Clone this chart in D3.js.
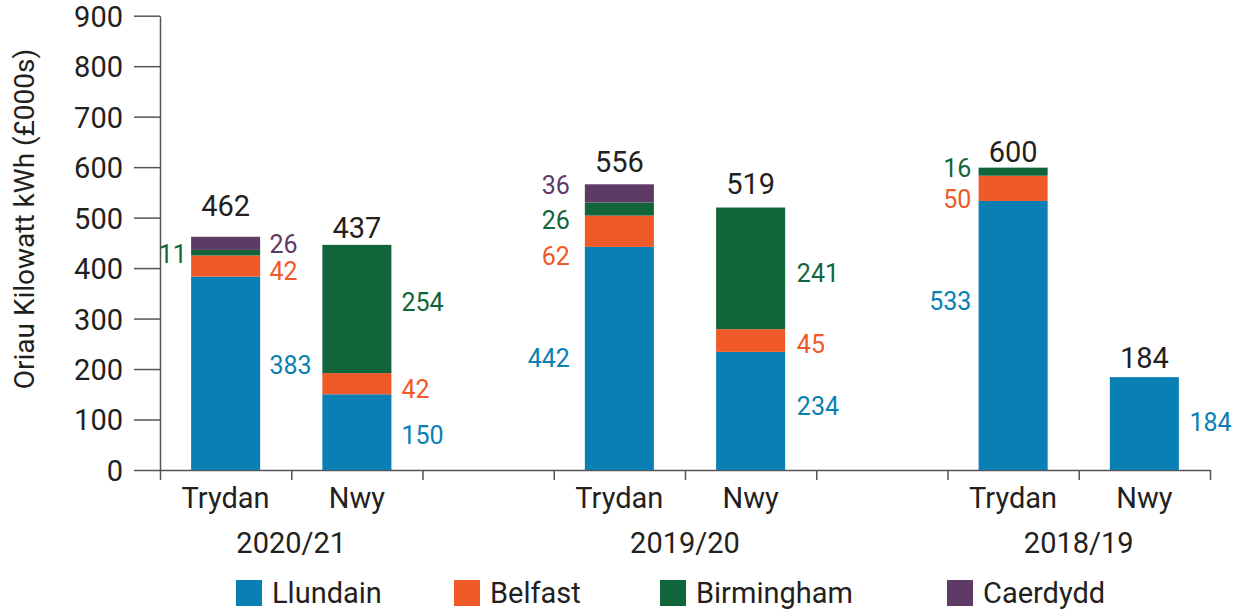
<!DOCTYPE html>
<html>
<head>
<meta charset="utf-8">
<script src="https://cdn.jsdelivr.net/npm/d3@7"></script>
<style>
  html, body { margin: 0; padding: 0; background: #fff; }
  svg { display: block; font-family: Roboto, "Noto Sans", sans-serif; font-weight: 400; }
</style>
</head>
<body>
<svg id="chart" width="1235" height="610"></svg>
<script>
// ---- data ----
const years = ["2020/21", "2019/20", "2018/19"];
const fuels = ["Trydan", "Nwy"];
const seriesNames = ["Llundain", "Belfast", "Birmingham", "Caerdydd"];
// one entry per bar: 2020/21 Trydan, 2020/21 Nwy, 2019/20 Trydan, 2019/20 Nwy, 2018/19 Trydan, 2018/19 Nwy
const llundain   = [383, 150, 442, 234, 533, 184];
const belfast    = [42, 42, 62, 45, 50, 0];
const birmingham = [11, 254, 26, 241, 16, 0];
const caerdydd   = [26, 0, 36, 0, 0, 0];
const totals     = [462, 437, 556, 519, 600, 184];
const yTicks = [0, 100, 200, 300, 400, 500, 600, 700, 800, 900];
const yTitle = "Oriau Kilowatt kWh (£000s)";

// ---- styling / layout ----
const colors = ["#0a7fb4", "#f05a28", "#10663a", "#5e3a66"];
const textColor = "#231f20";
const axisColor = "#555";
// value label placement per bar: side of the bar and vertical nudge (px) for each series
const labelSide = [
  ["R", "R", "L", "R"], ["R", "R", "R", "R"], ["L", "L", "L", "L"],
  ["R", "R", "R", "R"], ["L", "L", "L", "L"], ["R", "R", "R", "R"]
];
const labelNudge = [
  [-8, 5, 1.5, 0.5], [3.4, 5.8, -7.3, 0], [-0.2, 24.5, 11.4, -8.1],
  [-5.1, 3.2, 4.4, 0], [-34.7, 11.2, -3.3, 0], [-1.6, 0, 0, 0]
];
const leftGap = [4.3, 8, 15, 8, 7.3, 8];
const rightGap = [9.3, 10, 10, 11.7, 10, 10.6];
const totalLift = [31.3, 17.4, 22.6, 23.8, 16.4, 19.9];
const legendX = [236, 454, 660, 947];

const svg = d3.select("#chart");

// band slots: each year gets Trydan, Nwy, then an empty spacer (none after the last)
const slots = [];
years.forEach((yr, i) => {
  fuels.forEach(f => slots.push(yr + "|" + f));
  if (i < years.length - 1) slots.push(yr + "|gap");
});
const barKeys = [];
years.forEach(yr => fuels.forEach(f => barKeys.push(yr + "|" + f)));

const x = d3.scaleBand().domain(slots).range([160, 1210]).padding(0);
const barW = x.bandwidth() * 0.526;
const y = d3.scaleLinear().domain([0, 900]).range([470, 15.7]);

// stacked layout
const rows = barKeys.map((k, i) => ({
  key: k, Llundain: llundain[i], Belfast: belfast[i], Birmingham: birmingham[i], Caerdydd: caerdydd[i]
}));
const stacked = d3.stack().keys(seriesNames)(rows);

// y axis
const yAxis = svg.append("g")
  .attr("transform", "translate(160,0)")
  .call(d3.axisLeft(y).tickValues(yTicks).tickSize(26).tickSizeOuter(0).tickPadding(11));
yAxis.select(".domain").attr("stroke", axisColor).attr("stroke-width", 1.5);
yAxis.selectAll(".tick line").attr("stroke", axisColor).attr("stroke-width", 1.5);
yAxis.selectAll(".tick text").attr("fill", textColor).style("font-size", "29px")
  .style("font-family", "Roboto, sans-serif").style("font-weight", 400).attr("dy", "0.36em");

// x axis: ticks on every band edge
const edge = d3.scaleLinear().domain([0, slots.length]).range([160, 1210]);
const xAxis = svg.append("g")
  .attr("transform", "translate(0,470)")
  .call(d3.axisBottom(edge).tickValues(d3.range(slots.length + 1)).tickFormat("").tickSizeInner(10).tickSizeOuter(0));
xAxis.select(".domain").attr("stroke", axisColor).attr("stroke-width", 1.5);
xAxis.selectAll(".tick line").attr("stroke", axisColor).attr("stroke-width", 1.5);

// bars
svg.append("g").selectAll("g")
  .data(stacked)
  .join("g")
  .attr("fill", (d, i) => colors[i])
  .selectAll("rect")
  .data(d => d)
  .join("rect")
  .attr("x", d => x(d.data.key) + (x.bandwidth() - barW) / 2)
  .attr("width", barW)
  .attr("y", d => y(d[1]))
  .attr("height", d => y(d[0]) - y(d[1]));

// value labels for each segment
const vl = svg.append("g").style("font-size", "25px");
stacked.forEach((layer, si) => {
  layer.forEach((seg, bi) => {
    const v = seg[1] - seg[0];
    if (!v) return;
    const cx = x(seg.data.key) + x.bandwidth() / 2;
    const mid = (y(seg[0]) + y(seg[1])) / 2 + labelNudge[bi][si];
    const side = labelSide[bi][si];
    vl.append("text")
      .attr("x", side === "R" ? cx + barW / 2 + rightGap[bi] : cx - barW / 2 - leftGap[bi])
      .attr("y", mid + 25 * 0.355)
      .attr("text-anchor", side === "R" ? "start" : "end")
      .attr("fill", colors[si])
      .text(v);
  });
});

// totals above stacks
const tops = barKeys.map((k, i) => llundain[i] + belfast[i] + birmingham[i] + caerdydd[i]);
svg.append("g").selectAll("text")
  .data(barKeys)
  .join("text")
  .attr("x", k => x(k) + x.bandwidth() / 2)
  .attr("y", (k, i) => y(tops[i]) - totalLift[i] + 29 * 0.355)
  .attr("text-anchor", "middle")
  .attr("fill", textColor)
  .style("font-size", "29px")
  .text((k, i) => totals[i]);

// category labels
svg.append("g").selectAll("text")
  .data(barKeys)
  .join("text")
  .attr("x", k => x(k) + x.bandwidth() / 2)
  .attr("y", 508)
  .attr("text-anchor", "middle")
  .attr("fill", textColor)
  .style("font-size", "29px")
  .text(k => k.split("|")[1]);

// year labels centred under each pair
svg.append("g").selectAll("text")
  .data(years)
  .join("text")
  .attr("x", yr => x(yr + "|Nwy"))
  .attr("y", 553)
  .attr("text-anchor", "middle")
  .attr("fill", textColor)
  .style("font-size", "29px")
  .text(yr => yr);

// y title
svg.append("text")
  .attr("transform", "translate(34,219) rotate(-90)")
  .attr("text-anchor", "middle")
  .attr("fill", textColor)
  .style("font-size", "28px")
  .text(yTitle);

// legend
const lg = svg.append("g").selectAll("g")
  .data(seriesNames)
  .join("g")
  .attr("transform", (d, i) => `translate(${legendX[i]},580)`);
lg.append("rect").attr("width", 26).attr("height", 26).attr("fill", (d, i) => colors[i]);
lg.append("text").attr("x", 36).attr("y", 23).attr("fill", textColor)
  .style("font-size", "29px").text(d => d);
</script>
</body>
</html>
